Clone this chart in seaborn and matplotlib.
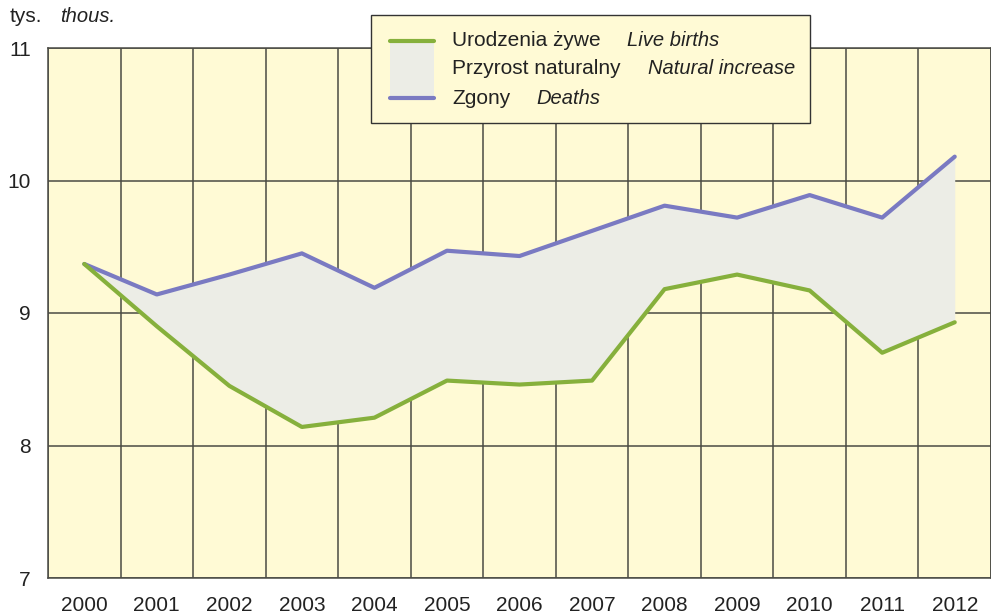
import numpy as np
import pandas as pd
import seaborn as sns
import matplotlib.pyplot as plt
from matplotlib.patches import Rectangle
from matplotlib.lines import Line2D

years = [2000, 2001, 2002, 2003, 2004, 2005, 2006, 2007, 2008, 2009, 2010, 2011, 2012]
births = [9.37, 8.90, 8.45, 8.14, 8.21, 8.49, 8.46, 8.49, 9.18, 9.29, 9.17, 8.70, 8.93]
deaths = [9.37, 9.14, 9.29, 9.45, 9.19, 9.47, 9.43, 9.62, 9.81, 9.72, 9.89, 9.72, 10.18]

GREEN = '#86b03c'
PURPLE = '#7a7ac2'
FILL = '#ecede6'
BG = '#fffad5'
GRID = '#4a4a44'

sns.set_theme(style="white")
plt.rcParams['font.family'] = ['Liberation Sans', 'DejaVu Sans']

W, H = 991, 616
fig = plt.figure(figsize=(W / 100, H / 100), dpi=100)
ax = fig.add_axes([48 / W, 1 - 578 / H, 1 - 48 / W, (578 - 48) / H])
ax.set_facecolor(BG)

df = pd.DataFrame({'pos': np.arange(len(years)), 'births': births, 'deaths': deaths})

ax.fill_between(df['pos'], df['births'], df['deaths'], color=FILL, zorder=2, lw=0)
sns.lineplot(data=df, x='pos', y='deaths', color=PURPLE, lw=3, ax=ax, zorder=3)
sns.lineplot(data=df, x='pos', y='births', color=GREEN, lw=3, ax=ax, zorder=4)

ax.set_xlim(-0.5, len(years) - 0.5)
ax.set_ylim(7, 11)
ax.set_xticks(np.arange(len(years)))
ax.set_xticklabels([str(y) for y in years])
ax.set_xticks(np.arange(len(years) + 1) - 0.5, minor=True)
ax.set_yticks([7, 8, 9, 10, 11])
ax.set_xlabel('')
ax.set_ylabel('')
ax.tick_params(axis='both', which='both', length=0, labelsize=15, colors='#222222')
ax.tick_params(axis='x', pad=13)
ax.tick_params(axis='y', pad=12.5)
ax.grid(False)
ax.grid(True, which='minor', axis='x', color=GRID, lw=1.1, zorder=1)
ax.grid(True, which='major', axis='y', color=GRID, lw=1.1, zorder=1)
ax.set_axisbelow(True)
for side in ['top', 'bottom', 'left', 'right']:
    ax.spines[side].set_color(GRID)
    ax.spines[side].set_linewidth(1.1)


def fx(px):
    return px / W


def fy(py):
    return 1 - py / H


fig.text(fx(10), fy(17), 'tys.', fontsize=15, va='center', ha='left', color='#222222')
fig.text(fx(60), fy(17), 'thous.', fontsize=14.5, style='italic', va='center', ha='left', color='#222222')

# legend box
fig.patches.append(Rectangle((fx(371), fy(123)), fx(810) - fx(371), fy(15) - fy(123),
                             transform=fig.transFigure, facecolor=BG, edgecolor='#333333',
                             lw=1.0, zorder=10))
fig.patches.append(Rectangle((fx(390), fy(98)), fx(434) - fx(390), fy(41) - fy(98),
                             transform=fig.transFigure, facecolor=FILL, edgecolor='none', zorder=11))
fig.lines.append(Line2D([fx(390), fx(434)], [fy(41), fy(41)], transform=fig.transFigure,
                        color=GREEN, lw=3, zorder=12))
fig.lines.append(Line2D([fx(390), fx(434)], [fy(98), fy(98)], transform=fig.transFigure,
                        color=PURPLE, lw=3, zorder=12))

rows = [('Urodzenia żywe', 'Live births', 41, 627),
        ('Przyrost naturalny', 'Natural increase', 69, 648),
        ('Zgony', 'Deaths', 98, 536)]
for pl, en, yy, xe in rows:
    fig.text(fx(452), fy(yy), pl, fontsize=15, va='center', ha='left', color='#222222', zorder=13)
    fig.text(fx(xe), fy(yy), en, fontsize=14.5, style='italic', va='center', ha='left',
             color='#222222', zorder=13)

fig.savefig('out.png', dpi=100, facecolor='white')
